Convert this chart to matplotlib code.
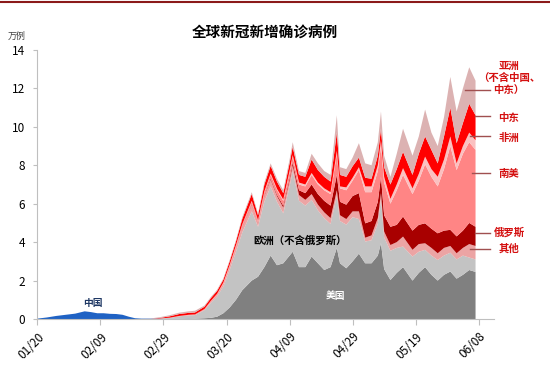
import numpy as np
import pandas as pd
import matplotlib
matplotlib.use('Agg')
import matplotlib.pyplot as plt
from matplotlib.lines import Line2D

plt.rcParams['font.family'] = ['Noto Sans CJK SC', 'DejaVu Sans']

# days since 2020-01-20
days = [0, 3, 6, 9, 12, 15, 17, 19, 21, 23, 25, 27, 29, 31, 33, 36, 39, 42, 45, 48,
        50, 53, 55, 57, 59, 61, 63, 65, 68, 70, 72, 74, 76, 78, 80, 81, 83, 85, 87, 89,
        91, 93, 95, 96, 98, 100, 102, 104, 106, 108, 109, 110, 112, 114, 116, 119, 121, 123, 125, 127,
        129, 131, 133, 135, 137, 139]

# daily new cases, 万例
china = [0.02, 0.08, 0.16, 0.22, 0.28, 0.40, 0.36, 0.30, 0.30, 0.27, 0.26, 0.22, 0.12, 0.04, 0.02, 0.02, 0.01, 0.01, 0.01, 0.01,
         0, 0, 0, 0, 0, 0, 0, 0, 0, 0, 0, 0, 0, 0, 0, 0, 0, 0, 0, 0,
         0, 0, 0, 0, 0, 0, 0, 0, 0, 0, 0, 0, 0, 0, 0, 0, 0, 0, 0, 0,
         0, 0, 0, 0, 0, 0]
usa = [0, 0, 0, 0, 0, 0, 0, 0, 0, 0, 0, 0, 0, 0, 0, 0, 0, 0, 0.01, 0.02,
       0.02, 0.04, 0.06, 0.12, 0.3, 0.6, 1.0, 1.5, 2.0, 2.2, 2.7, 3.3, 2.8, 2.9, 3.3, 3.5, 2.7, 2.7, 3.25, 2.9,
       2.55, 2.7, 3.7, 2.9, 2.64, 3.0, 3.4, 2.9, 2.9, 3.3, 3.95, 2.6, 2.03, 2.4, 2.7, 2.0, 2.4, 2.7, 2.3, 2.0,
       2.3, 2.47, 2.1, 2.3, 2.55, 2.45]
europe = [0, 0, 0, 0, 0, 0, 0, 0, 0, 0, 0, 0, 0, 0, 0, 0, 0.02, 0.05, 0.12, 0.16,
          0.18, 0.42, 0.78, 1.05, 1.4, 1.95, 2.5, 3.0, 3.6, 2.6, 3.4, 3.6, 3.3, 2.6, 3.6, 4.2, 3.45, 3.2, 2.95, 2.75,
          2.7, 2.25, 2.7, 2.2, 2.27, 2.3, 1.8, 1.13, 1.2, 1.65, 2.3, 1.65, 1.52, 1.3, 1.07, 1.25, 1.1, 0.9, 1.0, 1.07,
          1.0, 0.98, 1.0, 1.0, 0.65, 0.65]
other = [0, 0, 0, 0, 0, 0, 0, 0, 0, 0, 0, 0, 0, 0, 0, 0, 0, 0.01, 0.02, 0.03,
         0.04, 0.05, 0.07, 0.1, 0.14, 0.2, 0.24, 0.3, 0.35, 0.18, 0.3, 0.35, 0.3, 0.3, 0.3, 0.3, 0.3, 0.3, 0.3, 0.3,
         0.3, 0.3, 0.3, 0.3, 0.29, 0.3, 0.4, 0.2, 0.25, 0.3, 0.3, 0.3, 0.3, 0.3, 0.52, 0.35, 0.4, 0.34, 0.4, 0.35,
         0.4, 0.35, 0.32, 0.4, 0.7, 0.7]
russia = [0, 0, 0, 0, 0, 0, 0, 0, 0, 0, 0, 0, 0, 0, 0, 0, 0, 0, 0, 0,
          0, 0, 0, 0, 0, 0, 0.01, 0.02, 0.03, 0.02, 0.04, 0.06, 0.07, 0.1, 0.12, 0.15, 0.25, 0.35, 0.5, 0.55,
          0.6, 0.65, 0.8, 0.7, 0.75, 0.8, 0.95, 0.75, 0.75, 0.85, 0.85, 0.85, 0.95, 0.9, 1.04, 1.0, 1.0, 1.04, 1.0, 1.04,
          0.9, 0.84, 0.88, 0.9, 1.1, 1.0]
s_america = [0, 0, 0, 0, 0, 0, 0, 0, 0, 0, 0, 0, 0, 0, 0, 0, 0, 0, 0, 0,
             0, 0.01, 0.02, 0.03, 0.04, 0.05, 0.06, 0.08, 0.12, 0.1, 0.15, 0.2, 0.25, 0.25, 0.3, 0.3, 0.3, 0.35, 0.5, 0.5,
             0.55, 0.6, 1.1, 0.7, 0.75, 0.8, 1.2, 1.62, 1.5, 1.6, 1.6, 1.7, 1.2, 1.8, 2.17, 1.9, 2.3, 3.07, 2.7, 2.44,
             3.2, 4.36, 3.45, 4.0, 4.2, 4.0]
africa = [0, 0, 0, 0, 0, 0, 0, 0, 0, 0, 0, 0, 0, 0, 0, 0, 0, 0, 0, 0,
          0, 0, 0.01, 0.01, 0.02, 0.02, 0.03, 0.03, 0.05, 0.04, 0.05, 0.06, 0.06, 0.07, 0.08, 0.08, 0.1, 0.1, 0.1, 0.1,
          0.1, 0.1, 0.15, 0.1, 0.15, 0.15, 0.15, 0.3, 0.3, 0.3, 0.3, 0.3, 0.25, 0.3, 0.35, 0.3, 0.35, 0.4, 0.4, 0.5,
          0.5, 0.5, 0.35, 0.4, 0.5, 0.5]
mid_east = [0, 0, 0, 0, 0, 0, 0, 0, 0, 0, 0, 0, 0, 0, 0, 0, 0.03, 0.07, 0.1, 0.1,
            0.1, 0.12, 0.14, 0.15, 0.15, 0.18, 0.2, 0.28, 0.35, 0.26, 0.35, 0.4, 0.37, 0.33, 0.4, 0.42, 0.4, 0.4, 0.7, 0.65,
            0.6, 0.55, 0.95, 0.6, 0.55, 0.6, 0.5, 0.45, 0.4, 0.5, 0.6, 0.5, 0.75, 0.8, 0.85, 0.7, 1.05, 1.05, 1.0, 0.7,
            1.2, 1.5, 1.05, 1.2, 1.5, 1.3]
asia = [0, 0, 0, 0, 0, 0, 0, 0, 0, 0, 0, 0, 0, 0, 0, 0.01, 0.04, 0.06, 0.07, 0.08,
        0.09, 0.06, 0.06, 0.06, 0.06, 0.07, 0.07, 0.09, 0.1, 0.08, 0.12, 0.13, 0.15, 0.15, 0.2, 0.25, 0.2, 0.2, 0.3, 0.35,
        0.3, 0.35, 0.9, 0.4, 0.4, 0.45, 0.75, 0.75, 0.7, 0.7, 0.9, 0.6, 0.4, 0.8, 1.2, 1.0, 0.9, 1.4, 0.9, 0.9,
        1.0, 1.6, 1.65, 1.8, 1.9, 1.8]

colors = ['#1f62c4', '#808080', '#c3c3c3', '#eca4a4', '#a80000',
          '#ff8585', '#fbc0c0', '#ff0000', '#dcb2b2']

fig = plt.figure(figsize=(5.5, 3.8), dpi=100)
ax = fig.add_axes([0.068, 0.1605, 0.831, 0.708])

ax.stackplot(days, china, usa, europe, other, russia, s_america, africa, mid_east, asia,
             colors=colors, linewidth=0)

ax.set_xlim(0, 145)
ax.set_ylim(0, 14)

tick_days = list(range(0, 141, 20))
start = pd.Timestamp('2020-01-20')
tick_labels = [(start + pd.Timedelta(days=d)).strftime('%m/%d') for d in tick_days]
ax.set_xticks(tick_days)
ax.set_xticklabels(tick_labels, rotation=45, ha='right', rotation_mode='anchor', fontsize=8.5)
ax.set_yticks(range(0, 15, 2))
ax.tick_params(axis='y', labelsize=8.5, length=3, color='#bfbfbf', pad=6)
ax.tick_params(axis='x', length=4, color='#bfbfbf', pad=4)

for s in ['top', 'right']:
    ax.spines[s].set_visible(False)
for s in ['left', 'bottom']:
    ax.spines[s].set_color('#bfbfbf')

# labels inside
ax.text(17.6, 0.85, '中国', fontsize=7, color='#1f3864', ha='center', va='center', weight='bold')
ax.text(83.3, 4.1, '欧洲（不含俄罗斯）', fontsize=7.5, color='black', ha='center', va='center', weight='bold')
ax.text(94.4, 1.2, '美国', fontsize=7, color='white', ha='center', va='center', weight='bold')

# right-hand labels with leader lines
lab_color = '#d41010'
line_color = '#a05050'
right_labels = [
    ('亚洲\n（不含中国、\n中东）', 12.55, 11.9, 135.7),
    ('中东', 10.47, 10.55, 138.9),
    ('非洲', 9.4, 9.5, 137.3),
    ('南美', 7.55, 7.6, 137.8),
    ('俄罗斯', 4.48, 4.45, 138.9),
    ('其他', 3.65, 3.65, 137.3),
]
for txt, ty, ly, lx in right_labels:
    ax.plot([lx, 143.7], [ly, ly], color=line_color, lw=1, clip_on=False)
    ax.text(149.6, ty, txt, fontsize=7.5, color=lab_color, ha='center', va='center',
            weight='bold', linespacing=1.25, clip_on=False)

fig.text(0.482, 0.913, '全球新冠新增确诊病例', fontsize=10.5, weight='bold', ha='center', va='center')
fig.text(0.031, 0.903, '万例', fontsize=6.5, color='#404040', ha='center', va='center')

fig.add_artist(Line2D([0, 1], [0.995, 0.995], color='#8b1a1a', lw=1.5))

fig.savefig('out.png', dpi=100)
